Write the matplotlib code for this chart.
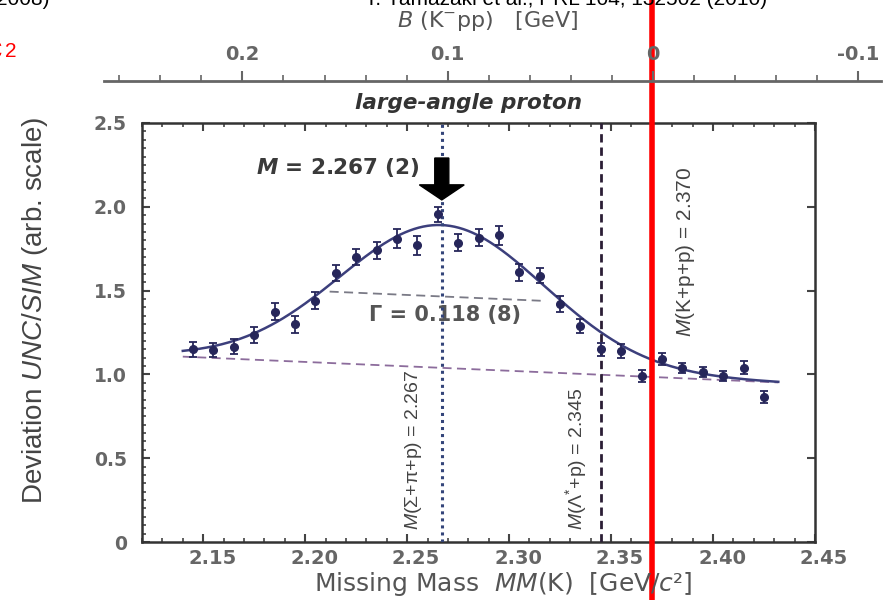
import matplotlib
matplotlib.use("Agg")
import matplotlib.pyplot as plt
import numpy as np
from matplotlib.ticker import FixedLocator, MultipleLocator
from matplotlib.transforms import ScaledTranslation

plt.rcParams['mathtext.fontset'] = 'custom'
plt.rcParams['mathtext.rm'] = 'Liberation Sans'
plt.rcParams['mathtext.it'] = 'Liberation Sans:italic'
plt.rcParams['mathtext.bf'] = 'Liberation Sans:bold'

# ---------------- data ----------------
mm = [2.145, 2.155, 2.165, 2.175, 2.185, 2.195, 2.205, 2.215, 2.225, 2.235,
      2.245, 2.255, 2.265, 2.275, 2.285, 2.295, 2.305, 2.315, 2.325, 2.335,
      2.345, 2.355, 2.365, 2.375, 2.385, 2.395, 2.405, 2.415, 2.425]
dev = [1.15, 1.146, 1.165, 1.235, 1.375, 1.30, 1.44, 1.605, 1.70, 1.74,
       1.81, 1.77, 1.955, 1.786, 1.815, 1.83, 1.61, 1.59, 1.42, 1.29,
       1.15, 1.14, 0.99, 1.09, 1.036, 1.016, 0.99, 1.04, 0.867]
err = [0.045, 0.04, 0.045, 0.045, 0.05, 0.05, 0.05, 0.05, 0.05, 0.05,
       0.055, 0.055, 0.045, 0.05, 0.05, 0.055, 0.05, 0.045, 0.045, 0.04,
       0.04, 0.04, 0.035, 0.035, 0.03, 0.03, 0.03, 0.04, 0.035]

# fit: linear background + Gaussian
bg_x = [2.140, 2.432]
bg_y = [1.106, 0.952]
fit_M = 2.267
fit_Gamma = 0.118
fit_A = 0.852
gamma_line_x = [2.212, 2.318]

M_sigma_pi_p = 2.267
M_lambda_p = 2.345
M_kpp = 2.370

xticks = [2.15, 2.20, 2.25, 2.30, 2.35, 2.40, 2.45]
xticklabels = ['2.15', '2.20', '2.25', '2.30', '2.35', '2.40', '2.45']
yticks = [0, 0.5, 1.0, 1.5, 2.0, 2.5]
yticklabels = ['0', '0.5', '1.0', '1.5', '2.0', '2.5']
bticks = [0.2, 0.1, 0.0, -0.1]
bticklabels = ['0.2', '0.1', '0', '-0.1']
bminor = [0.26, 0.24, 0.22, 0.20, 0.18, 0.16, 0.14, 0.12, 0.10, 0.08, 0.06,
          0.04, 0.02, 0.0, -0.02, -0.04, -0.06, -0.08, -0.10]

# ---------------- figure ----------------
W, H = 883, 600
fig = plt.figure(figsize=(W / 100, H / 100), dpi=100)
fig.patch.set_facecolor('white')

ax = fig.add_axes([142 / W, 58 / H, 673 / W, 419 / H])
ax.set_xlim(2.12, 2.45)
ax.set_ylim(0, 2.5)

navy = '#26265a'

# fit curve
xs = np.linspace(bg_x[0], bg_x[1], 400)
bgs = np.interp(xs, bg_x, bg_y)
sigma = fit_Gamma / 2.3548
curve = bgs + fit_A * np.exp(-0.5 * ((xs - fit_M) / sigma) ** 2)
ax.plot(xs, curve, color='#3c3f7c', lw=1.8, zorder=3)

# background line and half-width line
ax.plot(bg_x, bg_y, ls=(0, (5, 3)), color='#8c6c9c', lw=1.3, zorder=2)
gy = np.interp(gamma_line_x, bg_x, bg_y) + fit_A / 2
ax.plot(gamma_line_x, gy, ls=(0, (5, 3)), color='#7a7a86', lw=1.3, zorder=2)

# data points
ax.errorbar(mm, dev, yerr=err, fmt='o', ms=5.5, color=navy, ecolor=navy,
            elinewidth=1.3, capsize=3, capthick=1.3, zorder=5)

# vertical lines
ax.axvline(M_sigma_pi_p, ls=(0, (1, 1.3)), color='#34457a', lw=2.2, zorder=4)
ax.axvline(M_lambda_p, ls=(0, (3, 1.8)), color='#2b1e35', lw=2.0, zorder=4)

# arrow
ax.arrow(fit_M, 2.291, 0, -0.25, width=0.0069, head_width=0.022,
         head_length=0.09, length_includes_head=True, color='black', zorder=6)

# texts in axes
ax.text(2.2563, 2.232, r'$\mathbfit{M}$ = 2.267 (2)', ha='right', va='center',
        fontsize=15.5, fontweight='bold', color='#3a3a3a', math_fontfamily='dejavusans')
ax.text(2.2686, 1.354, 'Γ = 0.118 (8)', ha='center', va='center',
        fontsize=15, fontweight='bold', color='#555555', zorder=3)
ax.text(2.2529, 0.07, r'$M$(Σ+π+p) = 2.267', rotation=90, ha='center', va='bottom',
        fontsize=14, family='Liberation Sans', color='#444444', math_fontfamily='custom')
ax.text(2.3329, 0.07, r'$M$(Λ$^{*}$+p) = 2.345', rotation=90, ha='center', va='bottom',
        fontsize=14, family='Liberation Sans', color='#444444', math_fontfamily='custom')
ax.text(2.3863, 2.237, r'$M$(K+p+p) = 2.370', rotation=90, ha='center', va='top',
        fontsize=15, family='Liberation Sans', color='#444444', math_fontfamily='custom')

# spines & ticks
for s in ax.spines.values():
    s.set_color('#333333')
    s.set_linewidth(1.8)
ax.xaxis.set_major_locator(FixedLocator(xticks))
ax.xaxis.set_minor_locator(MultipleLocator(0.01))
ax.yaxis.set_major_locator(FixedLocator(yticks))
ax.yaxis.set_minor_locator(MultipleLocator(0.05))
ax.set_xticklabels(xticklabels)
ax.set_yticklabels(yticklabels)
ax.tick_params(which='both', direction='in', top=True, right=True, colors='#444444')
ax.tick_params(which='major', length=6, width=1.5)
ax.tick_params(which='minor', length=3, width=1.2)
ax.tick_params(axis='y', which='minor', right=False)
ax.tick_params(axis='x', labelsize=14, pad=5, labelcolor='#666666')
ax.tick_params(axis='y', labelsize=13.5, pad=11, labelcolor='#666666')
for lbl in ax.get_xticklabels() + ax.get_yticklabels():
    lbl.set_fontweight('bold')
off = ScaledTranslation(9 / 100, 0, fig.dpi_scale_trans)
for lbl in ax.get_xticklabels():
    lbl.set_transform(lbl.get_transform() + off)

# red overlay line at K+p+p threshold
ax.axvline(M_kpp, ymin=-0.3, ymax=1.6, clip_on=False, color='#ff0000', lw=4, zorder=20)

# axis labels
fig.text(35 / W, 1 - 310 / H, r'Deviation $\mathit{UNC/SIM}$ (arb. scale)', rotation=90,
         ha='center', va='center', fontsize=20, family='Liberation Sans',
         color='#444444', math_fontfamily='custom')
fig.text(503 / W, 1 - 584 / H, r'Missing Mass  $MM$(K)  [GeV/$c$²]', ha='center',
         va='center', fontsize=18, color='#555555', math_fontfamily='dejavusans')

# top B axis
axB = fig.add_axes([104 / W, (H - 81) / H, 777 / W, 0.0001])
axB.set_xlim(0.2674, -0.111)
axB.set_yticks([])
for s in ['top', 'left', 'right']:
    axB.spines[s].set_visible(False)
axB.spines['bottom'].set_color('#666666')
axB.spines['bottom'].set_linewidth(2)
axB.patch.set_visible(False)
axB.xaxis.set_major_locator(FixedLocator(bticks))
axB.xaxis.set_minor_locator(FixedLocator(bminor))
axB.set_xticklabels(bticklabels)
axB.tick_params(axis='x', which='both', direction='in', bottom=True, top=False,
                labelbottom=False, labeltop=True, colors='#666666')
axB.tick_params(axis='x', which='major', length=7, width=1.5, pad=12, labelsize=14)
axB.tick_params(axis='x', which='minor', length=4, width=1.2)
for lbl in axB.get_xticklabels():
    lbl.set_fontweight('bold')

fig.text(488 / W, 1 - 21 / H, r'$B$ (K$^{-}$pp)   [GeV]', ha='center', va='center',
         fontsize=16, color='#555555', math_fontfamily='dejavusans')
fig.text(469 / W, 1 - 103 / H, 'large-angle proton', ha='center', va='center',
         fontsize=15.5, fontweight='bold', fontstyle='italic', color='#333333')

# cropped slide texts (cut off by the top edge, as in the reference)
fig.text(566 / W, 1 - 5 / H, 'T. Yamazaki et al., PRL 104, 132502 (2010)', ha='center',
         va='baseline', fontsize=15, family='Liberation Sans', color='black')
fig.text(50 / W, 1 - 5 / H, '(2008)', ha='right', va='baseline', fontsize=15,
         family='Liberation Sans', color='black')
fig.text(17 / W, 1 - 57 / H, '2', ha='right', va='baseline', fontsize=15,
         family='Liberation Sans', color='#ff0000')
fig.text(2 / W, 1 - 58 / H, 'c', ha='right', va='baseline', fontsize=22,
         family='Liberation Sans', color='#ff0000')

fig.savefig('out.png', dpi=100, facecolor='white')
